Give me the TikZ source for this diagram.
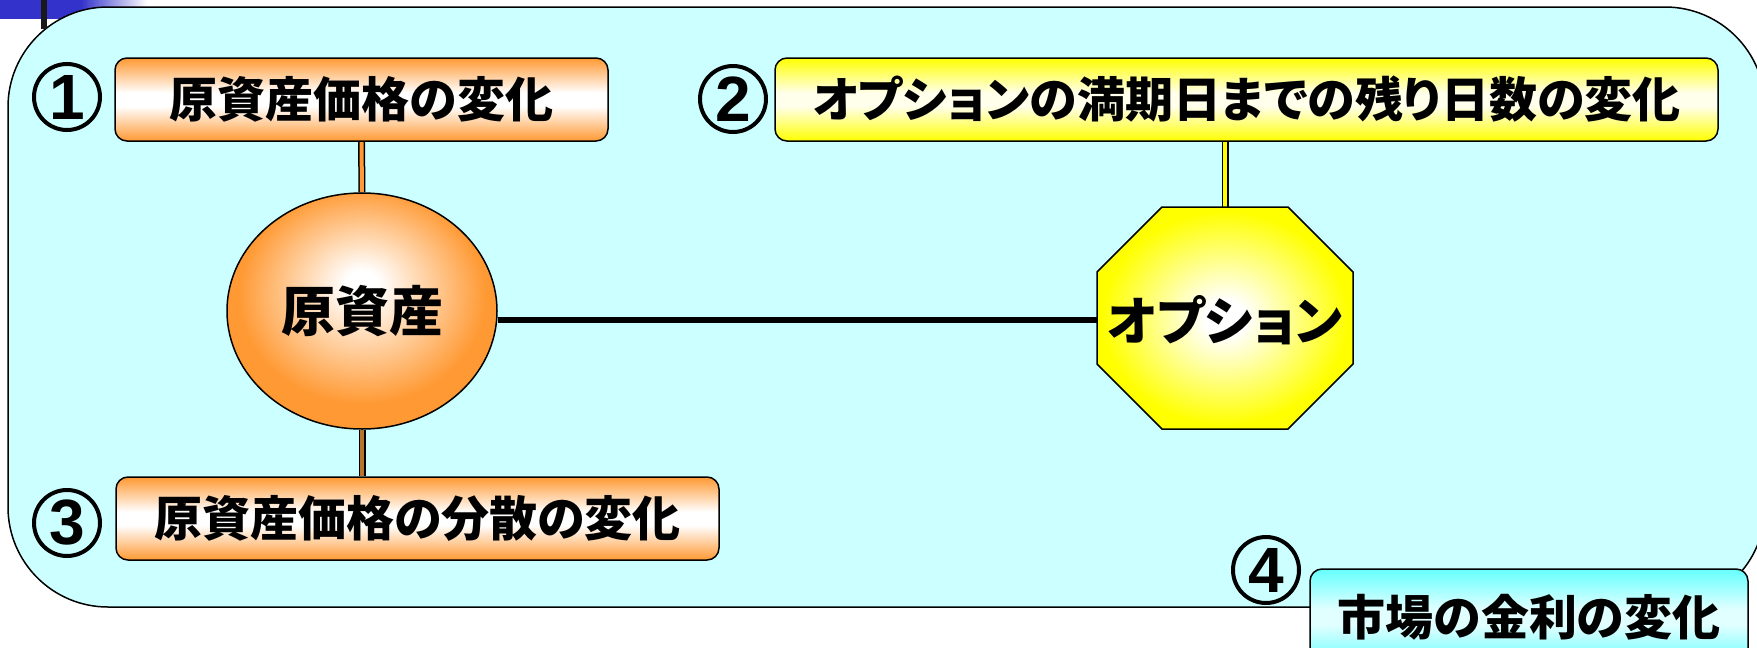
\documentclass[tikz,border=0pt]{standalone}
\usepackage{fontspec}
\setmainfont{Noto Sans CJK JP}[RawFeature=+palt]
\newfontfamily\digitfont{Liberation Sans}
\usetikzlibrary{calc,shapes.geometric}
\definecolor{bgcyan}{RGB}{204,255,255}
\definecolor{orng}{RGB}{255,153,51}
\definecolor{yel}{RGB}{255,255,0}
\definecolor{yelw}{RGB}{255,255,235}
\definecolor{cyn}{RGB}{102,255,255}
\definecolor{cynw}{RGB}{225,255,255}
\definecolor{barblue}{RGB}{51,51,204}
\definecolor{brn}{RGB}{185,115,45}
\pgfdeclareverticalshading{shO}{100bp}{color(0bp)=(orng); color(25bp)=(orng); color(46bp)=(white); color(54bp)=(white); color(75bp)=(orng); color(100bp)=(orng)}
\pgfdeclareverticalshading{shY}{100bp}{color(0bp)=(yel); color(25bp)=(yel); color(46bp)=(yelw); color(54bp)=(yelw); color(75bp)=(yel); color(100bp)=(yel)}
\pgfdeclareverticalshading{shC}{100bp}{color(0bp)=(cyn); color(25bp)=(cyn); color(46bp)=(cynw); color(54bp)=(cynw); color(75bp)=(cyn); color(100bp)=(cyn)}
\pgfdeclareradialshading{rO}{\pgfpoint{0bp}{6bp}}{color(0bp)=(white); color(3bp)=(white); color(23bp)=(orng); color(50bp)=(orng)}
\pgfdeclareradialshading{rY}{\pgfpoint{0bp}{0bp}}{color(0bp)=(white); color(4bp)=(white); color(24bp)=(yel); color(50bp)=(yel)}
\pgfdeclarehorizontalshading{bluebar}{100bp}{color(0bp)=(barblue); color(25bp)=(barblue); color(52bp)=(barblue); color(74bp)=(white); color(100bp)=(white)}
\pgfdeclarelayer{bg}
\pgfdeclarelayer{mid}
\pgfsetlayers{bg,mid,main}
\tikzset{
  frame/.style={draw=black, line width=1.5pt, rounded corners=100pt, fill=bgcyan},
  boxbase/.style={draw=black, line width=1.5pt, rounded corners=12pt, minimum height=83pt, inner sep=0pt, font=\fontsize{48}{48}\selectfont\bfseries},
  obox/.style={boxbase, shading=shO},
  ybox/.style={boxbase, shading=shY},
  cbox/.style={boxbase, shading=shC},
  numc/.style={circle, draw=black, line width=4pt, minimum size=66pt, inner sep=0pt, font=\digitfont\fontsize{64}{64}\selectfont\bfseries},
  link/.style={draw=black, line width=1.5pt, double distance=4pt},
  mainline/.style={draw=black, line width=6pt},
  bigtext/.style={font=\fontsize{54}{54}\selectfont\bfseries},
}
\begin{document}
\begin{tikzpicture}[x=1pt, y=-1pt]
\useasboundingbox (0,0) rectangle (1757,648);
\begin{pgfonlayer}{bg}
  \shade[shading=bluebar] (0,0) rectangle (150,18);
  \path[frame] (8,7) rectangle (1765,607);
\end{pgfonlayer}
% octagon shape
\shade[shading=rY, draw=black, line width=1.5pt]
  (1162,207) -- (1288,207) -- (1353,272) -- (1353,364) -- (1288,429) -- (1162,429) -- (1097,364) -- (1097,272) -- cycle;
\node[font=\fontsize{52}{52}\selectfont\bfseries, minimum width=256pt, minimum height=222pt, inner sep=0pt] (oct) at (1225,320) {オプション};
% ellipse
\node[ellipse, bigtext, draw=black, line width=1.5pt, shading=rO, minimum width=270pt, minimum height=236pt, inner sep=0pt] (ell) at (362,311) {原資産};
% boxes
\node[obox, minimum width=493pt] (b1) at (361.5,99.5) {原資産価格の変化};
\node[ybox, minimum width=943pt] (b2) at (1246.5,99.5) {オプションの満期日までの残り日数の変化};
\node[obox, minimum width=603pt] (b3) at (417.5,518.5) {原資産価格の分散の変化};
\node[cbox, minimum width=438pt, minimum height=96pt] (b4) at (1529,617) {市場の金利の変化};
% numbers
\node[numc] (n1) at (67,97) {1};
\node[numc] (n2) at (733,99) {2};
\node[numc] (n3) at (67,523) {3};
\node[numc] (n4) at (1266,570) {4};
% connectors
\begin{pgfonlayer}{mid}
  \draw[link, double=orng] (b1.south) -- (ell.north);
  \draw[link, double=brn] (ell.south) -- (ell.south |- b3.north);
  \draw[link, double=yel] (oct.north) -- (oct.north |- b2.south);
  \draw[mainline] (oct.west) -- (oct.west -| ell.east);
\end{pgfonlayer}
\fill[black!90] (41,0) rectangle (47,29);
\end{tikzpicture}
\end{document}
